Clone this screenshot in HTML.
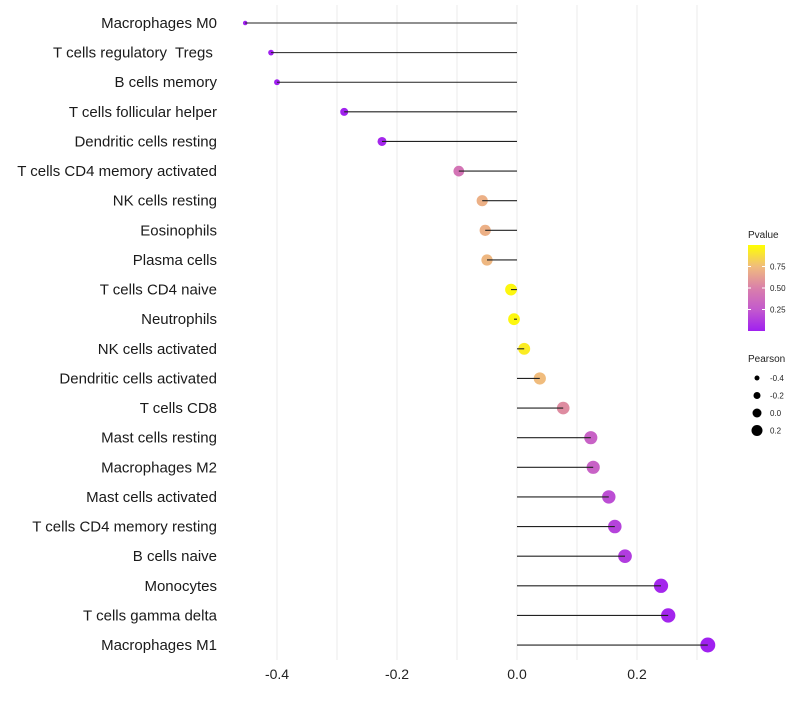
<!DOCTYPE html>
<html><head><meta charset="utf-8"><style>body{margin:0;background:#fff}svg{font-family:"Liberation Sans",sans-serif}text{white-space:pre}</style></head>
<body>
<svg id="c" width="800" height="700"></svg>
<script>
const categories=["Macrophages M0","T cells regulatory  Tregs ","B cells memory","T cells follicular helper","Dendritic cells resting","T cells CD4 memory activated","NK cells resting","Eosinophils","Plasma cells","T cells CD4 naive","Neutrophils","NK cells activated","Dendritic cells activated","T cells CD8","Mast cells resting","Macrophages M2","Mast cells activated","T cells CD4 memory resting","B cells naive","Monocytes","T cells gamma delta","Macrophages M1"];
const pearson=[-0.453,-0.41,-0.40,-0.288,-0.225,-0.097,-0.058,-0.053,-0.05,-0.01,-0.005,0.012,0.038,0.077,0.123,0.127,0.153,0.163,0.18,0.24,0.252,0.318];
const pvalue=[0.0,0.0,0.0,0.01,0.03,0.42,0.7,0.7,0.73,0.97,0.97,0.93,0.75,0.55,0.3,0.3,0.2,0.15,0.12,0.03,0.02,0.003];
const xTicks=[-0.4,-0.2,0,0.2];
const pTicks=[0.25,0.5,0.75];
const sizeTicks=[-0.4,-0.2,0.0,0.2];
const NS="http://www.w3.org/2000/svg",svg=document.getElementById('c');
const X=v=>517+v*600, Y=i=>23+i*29.62;
const R=v=>Math.sqrt(Math.max(2,16+(v+0.288)*66));
function mk(t,a,p){const e=document.createElementNS(NS,t);for(const k in a)e.setAttribute(k,a[k]);(p||svg).appendChild(e);return e;}
const stops=[[0,[160,32,240]],[0.25,[195,90,205]],[0.5,[218,128,170]],[0.75,[240,188,125]],[1,[255,255,0]]];
function col(p){for(let i=1;i<stops.length;i++){if(p<=stops[i][0]){const a=stops[i-1],b=stops[i],t=(p-a[0])/(b[0]-a[0]);return`rgb(${a[1].map((c,j)=>Math.round(c+(b[1][j]-c)*t)).join(',')})`;}}return'rgb(255,255,0)';}
for(let k=-4;k<=3;k++){const v=k/10;const g=mk('line',{x1:X(v),x2:X(v),y1:5,y2:660,stroke:'#ebebeb','stroke-width':1});}
xTicks.forEach(t=>{const e=mk('text',{x:X(t),y:679,'text-anchor':'middle','font-size':14,fill:'#222'});e.textContent=t===0?'0.0':t.toFixed(1);});
categories.forEach((c,i)=>{
const y=Y(i);
const l=mk('text',{x:217,y:y+5,'text-anchor':'end','font-size':15,fill:'#1a1a1a'});l.textContent=c;


const d=mk('circle',{cx:X(pearson[i]),cy:y,r:R(pearson[i]),fill:col(pvalue[i])});


const s=mk('line',{x1:X(pearson[i]),x2:X(0),y1:y,y2:y,stroke:'#222','stroke-width':1.1});


});
const lt=mk('text',{x:748,y:238,'font-size':10,fill:'#222'});lt.textContent='Pvalue';
const defs=mk('defs',{});const lg=mk('linearGradient',{id:'g',x1:0,y1:1,x2:0,y2:0},defs);
stops.forEach(s=>mk('stop',{offset:s[0],'stop-color':col(s[0])},lg));
const cb=mk('rect',{x:748,y:245,width:17,height:86,fill:'url(#g)'});
pTicks.forEach(p=>{const y=331-p*86;mk('line',{x1:748,x2:751,y1:y,y2:y,stroke:'#fff'});mk('line',{x1:762,x2:765,y1:y,y2:y,stroke:'#fff'});const e=mk('text',{x:770,y:y+3,'font-size':8,fill:'#222'});e.textContent=p.toFixed(2);});
const st=mk('text',{x:748,y:362,'font-size':10,fill:'#222'});st.textContent='Pearson';
const legR=[2.5,3.5,4.5,5.5];
sizeTicks.forEach((v,i)=>{const y=378+i*17.5;const d=mk('circle',{cx:757,cy:y,r:legR[i],fill:'#000'});const e=mk('text',{x:770,y:y+3,'font-size':8,fill:'#222'});e.textContent=v.toFixed(1);});
</script>
</body></html>
